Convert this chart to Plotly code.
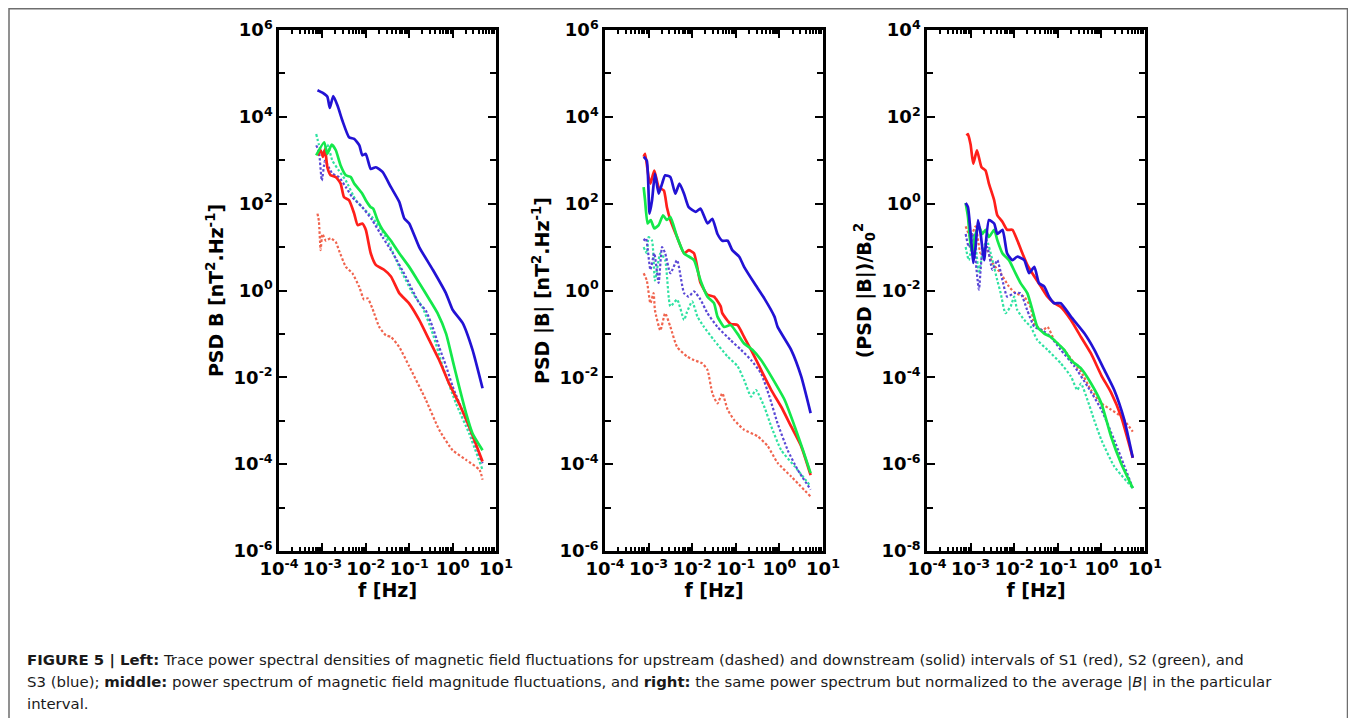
import plotly.graph_objects as go

# ---------------- Panel 1: PSD B (trace) ----------------
p1_s1_down_f = [7.7e-4, 9.1e-4, 1.03e-3, 1.15e-3, 1.3e-3, 1.55e-3, 2.04e-3, 2.63e-3, 3.16e-3, 4.1e-3,
                5.4e-3, 6.5e-3, 8.3e-3, 0.01, 0.013, 0.017, 0.0263, 0.038, 0.059, 0.1, 0.17, 0.29,
                0.49, 0.83, 1.41, 2.4, 4.9]
p1_s1_down_p = [1300, 1700, 1200, 1800, 690, 450, 410, 290, 140, 120, 59, 32, 35, 25, 7.2, 3.9, 3.0,
                2.1, 0.87, 0.5, 0.21, 0.072, 0.025, 7.2e-3, 2.5e-3, 7.4e-4, 1.15e-4]
p1_s2_down_f = [7.2e-4, 1.1e-3, 1.3e-3, 1.64e-3, 2.04e-3, 2.63e-3, 3.47e-3, 4.5e-3, 5.4e-3, 8.3e-3,
                0.01, 0.013, 0.0148, 0.0186, 0.0243, 0.038, 0.059, 0.1, 0.17, 0.29, 0.45, 0.71, 1.0,
                1.41, 2.04, 2.88, 4.9]
p1_s2_down_p = [1300, 2600, 1400, 2300, 1700, 760, 450, 410, 290, 170, 120, 83, 77, 42, 25, 14, 7.2,
                3.5, 1.5, 0.63, 0.30, 0.10, 0.025, 6.2e-3, 1.5e-3, 5.1e-4, 2.1e-4]
p1_s3_down_f = [7.7e-4, 1.0e-3, 1.3e-3, 1.48e-3, 1.78e-3, 2.24e-3, 2.9e-3, 4.1e-3, 5.4e-3, 7.1e-3,
                8.3e-3, 0.01, 0.013, 0.017, 0.0243, 0.038, 0.059, 0.077, 0.1, 0.17, 0.35, 0.7, 1.0,
                1.7, 2.88, 4.9]
p1_s3_down_p = [4.1e4, 3.6e4, 2.9e4, 1.6e4, 3.0e4, 1.8e4, 8.1e3, 3.4e3, 3.1e3, 2.2e3, 1.3e3, 1.4e3,
                630, 690, 540, 240, 110, 46, 35, 10, 3.0, 0.87, 0.36, 0.18, 0.043, 5.6e-3]
p1_s1_up_f = [7.7e-4, 8.3e-4, 9.1e-4, 1.0e-3, 1.2e-3, 1.55e-3, 2.04e-3, 2.4e-3, 3.47e-3, 4.9e-3,
              7.1e-3, 9.1e-3, 0.011, 0.014, 0.0204, 0.029, 0.038, 0.059, 0.1, 0.243, 0.49, 1.0, 2.04,
              4.17, 4.9]
p1_s1_up_p = [59, 40, 8.5, 20, 14, 16, 13, 8.5, 3.5, 2.5, 1.2, 0.62, 0.66, 0.4, 0.145, 0.093, 0.085,
              0.05, 0.018, 3.0e-3, 6.2e-4, 2.1e-4, 1.26e-4, 7.4e-5, 4.4e-5]
p1_s2_up_f = [7.2e-4, 8.3e-4, 1.0e-3, 1.3e-3, 1.7e-3, 2.4e-3, 3.47e-3, 5.9e-3, 8.3e-3, 0.014, 0.029,
              0.059, 0.12, 0.2, 0.35, 0.59, 1.2, 2.4, 4.9]
p1_s2_up_p = [4000, 2300, 1400, 2300, 980, 580, 340, 120, 83, 49, 17, 3.5, 0.87, 0.42, 0.10, 0.018,
              2.5e-3, 5.1e-4, 7.4e-5]
p1_s3_up_f = [7.2e-4, 8.3e-4, 9.7e-4, 1.15e-3, 1.4e-3, 1.7e-3, 2.4e-3, 3.47e-3, 4.9e-3, 8.3e-3,
              0.014, 0.0243, 0.042, 0.083, 0.17, 0.24, 0.35, 0.49, 0.71, 1.0, 2.04, 4.9]
p1_s3_up_p = [2200, 1600, 340, 980, 690, 490, 410, 240, 140, 83, 42, 17, 7.2, 2.1, 0.51, 0.35, 0.14,
              0.05, 0.018, 6.2e-3, 1.05e-3, 1.05e-4]

# ---------------- Panel 2: PSD |B| ----------------
p2_s1_down_f = [7.7e-4, 8.3e-4, 1.0e-3, 1.1e-3, 1.35e-3, 1.7e-3, 2.24e-3, 2.63e-3, 3.16e-3, 4.5e-3,
                6.5e-3, 8.3e-3, 0.011, 0.0155, 0.0224, 0.0316, 0.045, 0.049, 0.076, 0.11, 0.155,
                0.224, 0.38, 0.65, 1.1, 1.86, 3.16, 5.2]
p2_s1_down_p = [1200, 1400, 410, 290, 580, 240, 200, 83, 42, 17, 7.2, 8.5, 7.2, 1.5, 0.8, 0.72, 0.43,
                0.30, 0.17, 0.16, 0.085, 0.043, 0.0148, 5.1e-3, 2.1e-3, 7.4e-4, 2.6e-4, 5.6e-5]
p2_s2_down_f = [7.7e-4, 8.3e-4, 9.5e-4, 1.12e-3, 1.35e-3, 1.7e-3, 2.14e-3, 2.63e-3, 3.16e-3, 4.5e-3,
                6.5e-3, 0.011, 0.0155, 0.0224, 0.0316, 0.038, 0.054, 0.076, 0.11, 0.155, 0.24, 0.38,
                0.65, 1.32, 2.24, 3.47, 5.2]
p2_s2_down_p = [240, 120, 35, 42, 27, 32, 54, 42, 49, 17, 7.2, 5.0, 1.7, 0.72, 0.51, 0.25, 0.145,
                0.16, 0.10, 0.06, 0.043, 0.025, 0.0105, 3.0e-3, 7.4e-4, 2.1e-4, 6.2e-5]
p2_s3_down_f = [7.7e-4, 9.1e-4, 1.05e-3, 1.2e-3, 1.4e-3, 1.7e-3, 2.04e-3, 2.4e-3, 3.16e-3, 4.1e-3,
                5.1e-3, 6.5e-3, 8.3e-3, 0.012, 0.0155, 0.0224, 0.029, 0.038, 0.049, 0.065, 0.083,
                0.12, 0.155, 0.263, 0.45, 0.77, 0.91, 1.86, 3.16, 5.2]
p2_s3_down_p = [1200, 980, 59, 120, 490, 170, 290, 450, 410, 170, 290, 170, 83, 65, 77, 35, 45, 20,
                14, 14, 8.5, 6.0, 3.5, 1.5, 0.66, 0.25, 0.145, 0.043, 0.0105, 1.5e-3]
p2_s1_up_f = [7.7e-4, 9.1e-4, 1.1e-3, 1.3e-3, 1.4e-3, 1.86e-3, 2.4e-3, 3.16e-3, 4.5e-3, 7.7e-3,
              0.011, 0.017, 0.0224, 0.029, 0.038, 0.049, 0.065, 0.091, 0.155, 0.316, 0.54, 0.91,
              1.86, 5.2]
p2_s1_up_p = [2.5, 1.7, 0.51, 0.87, 0.35, 0.12, 0.30, 0.145, 0.05, 0.03, 0.025, 0.021, 0.0148,
              4.3e-3, 2.5e-3, 4.3e-3, 1.8e-3, 1.05e-3, 6.2e-4, 4.4e-4, 2.6e-4, 1.07e-4, 5.2e-5, 1.8e-5]
p2_s2_up_f = [7.7e-4, 9.1e-4, 1.0e-3, 1.2e-3, 1.4e-3, 1.86e-3, 2.4e-3, 3.16e-3, 4.5e-3, 6.5e-3,
              7.6e-3, 0.01, 0.0132, 0.0186, 0.0316, 0.065, 0.11, 0.155, 0.224, 0.29, 0.45, 0.65,
              1.1, 2.24, 5.2]
p2_s2_up_p = [10, 7.2, 17, 14, 1.7, 7.2, 5.0, 0.43, 0.62, 0.21, 0.32, 0.56, 0.25, 0.145, 0.072, 0.03,
              0.018, 8.7e-3, 3.6e-3, 5.1e-3, 2.1e-3, 7.4e-4, 2.1e-4, 8.9e-5, 3.1e-5]
p2_s3_up_f = [7.7e-4, 8.7e-4, 1.1e-3, 1.35e-3, 1.7e-3, 2.04e-3, 2.4e-3, 3.16e-3, 4.5e-3, 6.5e-3,
              8.3e-3, 0.011, 0.0155, 0.0224, 0.038, 0.076, 0.132, 0.224, 0.38, 0.59, 0.91, 1.55,
              2.63, 5.2]
p2_s3_up_p = [14, 16, 3.0, 7.2, 1.5, 10, 7.2, 2.5, 5.0, 0.87, 0.72, 0.95, 0.62, 0.30, 0.145, 0.072,
              0.043, 0.025, 0.0123, 3.6e-3, 8.7e-4, 2.1e-4, 7.4e-5, 2.6e-5]

# ---------------- Panel 3: (PSD |B|)/B0^2 ----------------
p3_s1_down_f = [8.1e-4, 8.7e-4, 1.0e-3, 1.15e-3, 1.4e-3, 1.78e-3, 2.2e-3, 2.63e-3, 3.47e-3, 4.1e-3,
                5.4e-3, 6.9e-3, 9.1e-3, 0.0117, 0.0155, 0.02, 0.029, 0.041, 0.058, 0.083, 0.117,
                0.2, 0.34, 0.58, 1.0, 1.66, 2.82, 5.25]
p3_s1_down_p = [37, 40, 23, 8.3, 17, 6.9, 5.8, 2.9, 1.2, 0.54, 0.38, 0.25, 0.25, 0.145, 0.071, 0.039,
                0.021, 0.0123, 7.2e-3, 5.1e-3, 4.2e-3, 2.1e-3, 8.5e-4, 3.5e-4, 1.1e-4, 4.5e-5,
                1.26e-5, 1.4e-6]
p3_s2_down_f = [7.7e-4, 8.7e-4, 9.7e-4, 1.1e-3, 1.3e-3, 1.55e-3, 1.86e-3, 2.2e-3, 2.63e-3, 3.47e-3,
                4.1e-3, 5.4e-3, 7.6e-3, 0.0107, 0.014, 0.02, 0.0263, 0.034, 0.049, 0.069, 0.1, 0.14,
                0.2, 0.34, 0.58, 1.0, 1.66, 2.82, 5.25]
p3_s2_down_p = [1.03, 0.5, 0.145, 0.071, 0.2, 0.3, 0.2, 0.25, 0.17, 0.25, 0.145, 0.071, 0.05, 0.025,
                0.0148, 8.7e-3, 3.5e-3, 1.45e-3, 1.02e-3, 8.5e-4, 6.0e-4, 4.3e-4, 2.5e-4, 1.6e-4,
                7.2e-5, 2.5e-5, 4.4e-6, 1.05e-6, 2.8e-7]
p3_s3_down_f = [7.7e-4, 8.7e-4, 1.03e-3, 1.15e-3, 1.3e-3, 1.48e-3, 1.7e-3, 2.04e-3, 2.63e-3, 3.47e-3,
                4.1e-3, 5.4e-3, 6.9e-3, 9.1e-3, 0.0117, 0.017, 0.022, 0.029, 0.037, 0.049, 0.063,
                0.083, 0.117, 0.2, 0.41, 0.69, 1.16, 1.97, 3.35, 5.25]
p3_s3_down_p = [1.03, 0.83, 0.145, 0.043, 0.10, 0.42, 0.2, 0.05, 0.42, 0.35, 0.2, 0.25, 0.071, 0.05,
                0.06, 0.05, 0.025, 0.035, 0.0148, 0.0123, 7.2e-3, 5.1e-3, 5.1e-3, 2.5e-3, 1.02e-3,
                4.3e-4, 1.5e-4, 5.1e-5, 1.05e-5, 1.4e-6]
p3_s1_up_f = [7.7e-4, 1.0e-3, 1.3e-3, 1.7e-3, 2.2e-3, 3.16e-3, 4.9e-3, 7.6e-3, 0.0107, 0.017, 0.024,
              0.029, 0.045, 0.058, 0.083, 0.14, 0.24, 0.34, 0.58, 1.0, 1.66, 2.82, 5.25]
p3_s1_up_p = [0.30, 0.17, 0.30, 0.071, 0.10, 0.043, 0.025, 0.0123, 8.7e-3, 7.2e-3, 4.0e-3, 1.7e-3,
              1.2e-3, 1.45e-3, 7.2e-4, 4.3e-4, 2.1e-4, 1.35e-4, 5.1e-5, 2.5e-5, 1.8e-5, 1.26e-5, 5.6e-6]
p3_s2_up_f = [7.7e-4, 9.1e-4, 1.2e-3, 1.55e-3, 1.86e-3, 2.34e-3, 3.16e-3, 4.1e-3, 4.9e-3, 6.3e-3,
              8.3e-3, 0.01, 0.0117, 0.017, 0.024, 0.034, 0.058, 0.117, 0.2, 0.28, 0.34, 0.48, 0.68,
              1.0, 1.97, 5.25]
p3_s2_up_p = [0.10, 0.05, 0.2, 0.025, 0.071, 0.145, 0.05, 0.017, 8.7e-3, 3.0e-3, 4.3e-3, 7.2e-3,
              3.6e-3, 2.1e-3, 1.45e-3, 7.2e-4, 4.3e-4, 2.1e-4, 1.05e-4, 5.1e-5, 7.2e-5, 3.0e-5,
              1.05e-5, 3.6e-6, 8.9e-7, 2.8e-7]
p3_s3_up_f = [7.7e-4, 9.1e-4, 1.1e-3, 1.55e-3, 1.86e-3, 2.4e-3, 3.16e-3, 4.1e-3, 5.4e-3, 6.9e-3,
              0.01, 0.014, 0.02, 0.029, 0.045, 0.069, 0.117, 0.24, 0.48, 1.0, 1.97, 5.25]
p3_s3_up_p = [0.2, 0.10, 0.2, 0.0105, 0.071, 0.10, 0.03, 0.05, 0.017, 7.2e-3, 8.7e-3, 8.7e-3,
              3.5e-3, 1.45e-3, 1.2e-3, 8.5e-4, 4.3e-4, 1.8e-4, 6.2e-5, 1.8e-5, 3.6e-6, 2.8e-7]

x_tick_vals = [1e-4, 1e-3, 1e-2, 1e-1, 1e0, 1e1]
x_tick_text = ["10<sup>-4</sup>", "10<sup>-3</sup>", "10<sup>-2</sup>", "10<sup>-1</sup>",
               "10<sup>0</sup>", "10<sup>1</sup>"]
y_exp_12 = [-6, -4, -2, 0, 2, 4, 6]
y_exp_3 = [-8, -6, -4, -2, 0, 2, 4]
y_titles = ["PSD B [nT<sup>2</sup>.Hz<sup>-1</sup>]",
            "PSD |B| [nT<sup>2</sup>.Hz<sup>-1</sup>]",
            "(PSD |B|)/B<sub>0</sub><sup>2</sup>"]
x_title = "f [Hz]"

caption_lines = [
    "<b>FIGURE 5 | Left:</b> Trace power spectral densities of magnetic field fluctuations for upstream (dashed) and downstream (solid) intervals of S1 (red), S2 (green), and",
    "S3 (blue); <b>middle:</b> power spectrum of magnetic field magnitude fluctuations, and <b>right:</b> the same power spectrum but normalized to the average |<i>B</i>| in the particular",
    "interval.",
]

styles = {
    "s1_down": dict(color="#ff1f1a", width=2.7, dash="solid"),
    "s2_down": dict(color="#14e84a", width=2.7, dash="solid"),
    "s3_down": dict(color="#2212d4", width=2.7, dash="solid"),
    "s1_up": dict(color="#f0644e", width=2.2, dash="2.5px,2px"),
    "s2_up": dict(color="#2fe2a2", width=2.2, dash="2.5px,2px"),
    "s3_up": dict(color="#5a48d6", width=2.2, dash="2.5px,2px"),
}

panels = [
    {"s1_up": (p1_s1_up_f, p1_s1_up_p), "s2_up": (p1_s2_up_f, p1_s2_up_p), "s3_up": (p1_s3_up_f, p1_s3_up_p),
     "s1_down": (p1_s1_down_f, p1_s1_down_p), "s2_down": (p1_s2_down_f, p1_s2_down_p), "s3_down": (p1_s3_down_f, p1_s3_down_p)},
    {"s1_up": (p2_s1_up_f, p2_s1_up_p), "s2_up": (p2_s2_up_f, p2_s2_up_p), "s3_up": (p2_s3_up_f, p2_s3_up_p),
     "s1_down": (p2_s1_down_f, p2_s1_down_p), "s2_down": (p2_s2_down_f, p2_s2_down_p), "s3_down": (p2_s3_down_f, p2_s3_down_p)},
    {"s1_up": (p3_s1_up_f, p3_s1_up_p), "s2_up": (p3_s2_up_f, p3_s2_up_p), "s3_up": (p3_s3_up_f, p3_s3_up_p),
     "s1_down": (p3_s1_down_f, p3_s1_down_p), "s2_down": (p3_s2_down_f, p3_s2_down_p), "s3_down": (p3_s3_down_f, p3_s3_down_p)},
]

# the page body has an 8px margin, so the figure is 1348x710 and positions are offset by 8px
OFF = 8
W, H = 1356 - OFF, 718 - OFF
x_px = [(279, 496), (605, 823), (927, 1145)]
y_px = (30, 551)


def px_x(x):
    return (x - OFF) / W


def px_y(y):
    return 1 - (y - OFF) / H


fig = go.Figure()
for i, pdata in enumerate(panels):
    sfx = "" if i == 0 else str(i + 1)
    for key in ["s1_up", "s2_up", "s3_up", "s1_down", "s2_down", "s3_down"]:
        f, p = pdata[key]
        st = styles[key]
        fig.add_trace(go.Scatter(x=f, y=p, mode="lines", xaxis="x" + sfx, yaxis="y" + sfx,
                                 line=dict(color=st["color"], width=st["width"], dash=st["dash"],
                                           shape="spline", smoothing=0.5),
                                 hoverinfo="skip", showlegend=False))

tick_font = dict(family="DejaVu Sans", size=18, color="black", weight="bold")
title_font = dict(family="DejaVu Sans", size=19, color="black", weight="bold")
minor_x = [k * 10.0 ** d for d in range(-4, 1) for k in range(2, 10)]

layout = dict(width=W, height=H, margin=dict(l=0, r=0, t=0, b=0, autoexpand=False),
              paper_bgcolor="white", plot_bgcolor="white", showlegend=False, template="none")
for i in range(3):
    sfx = "" if i == 0 else str(i + 1)
    x0, x1 = x_px[i]
    exps = y_exp_3 if i == 2 else y_exp_12
    yvals = [10.0 ** e for e in exps]
    ytext = ["10<sup>%d</sup>" % e for e in exps]
    minor_y = [10.0 ** (e + 1) for e in exps[:-1]]
    common = dict(type="log", showgrid=False, zeroline=False, showline=True, linewidth=2.5,
                  linecolor="black", mirror="ticks", ticks="inside", tickcolor="black",
                  tickwidth=2, tickfont=tick_font, automargin=False)
    layout["xaxis" + sfx] = dict(common, domain=[px_x(x0), px_x(x1)], anchor="y" + sfx,
                                 range=[-4, 1], tickmode="array", tickvals=x_tick_vals,
                                 ticktext=x_tick_text, ticklen=8,
                                 minor=dict(tickmode="array", tickvals=minor_x, ticks="inside",
                                            ticklen=4, tickwidth=1.5, tickcolor="black",
                                            showgrid=False),
                                 title=dict(text=x_title, font=title_font, standoff=3))
    layout["yaxis" + sfx] = dict(common, domain=[px_y(y_px[1]), px_y(y_px[0])],
                                 anchor="x" + sfx, range=[exps[0], exps[-1]], tickmode="array",
                                 tickvals=yvals, ticktext=ytext, ticklen=8,
                                 minor=dict(tickmode="array", tickvals=minor_y, ticks="inside",
                                            ticklen=6, tickwidth=2, tickcolor="black",
                                            showgrid=False),
                                 title=dict(text=y_titles[i], font=title_font, standoff=5))

fig.update_layout(**layout)

# frame around figure and caption
fig.add_shape(type="rect", xref="paper", yref="paper", x0=px_x(9.0), x1=px_x(1347.5),
              y0=-0.05, y1=px_y(8.8), line=dict(color="#6e6e6e", width=1.5),
              fillcolor="rgba(0,0,0,0)", layer="below")

cap_y = [660, 682, 704]
for txt, yy in zip(caption_lines, cap_y):
    fig.add_annotation(text=txt, xref="paper", yref="paper", x=px_x(25), y=px_y(yy),
                       xanchor="left", yanchor="middle", showarrow=False, align="left",
                       font=dict(family="DejaVu Sans", size=14.9, color="#1a1a1a"))

fig.write_html("out.html")
